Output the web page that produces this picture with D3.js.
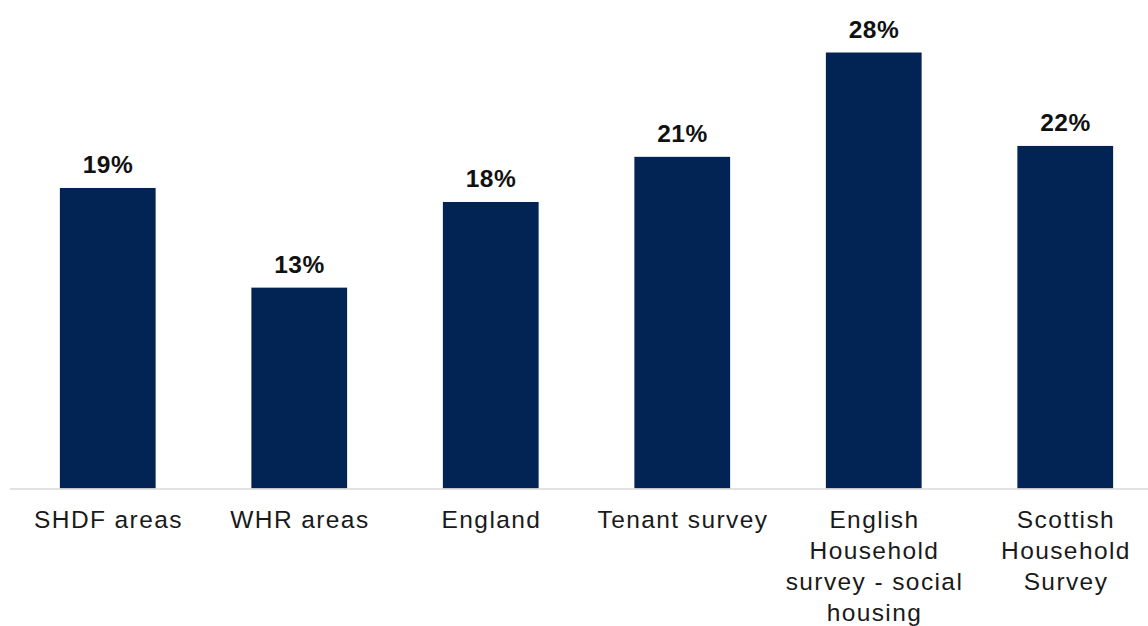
<!DOCTYPE html>
<html>
<head>
<meta charset="utf-8">
<script src="https://cdn.jsdelivr.net/npm/d3@7"></script>
<style>
  html, body { margin: 0; padding: 0; background: #fff; }
  svg { display: block; }
</style>
</head>
<body>
<svg id="chart"></svg>
<script>
// data
const categories = [
  "SHDF areas",
  "WHR areas",
  "England",
  "Tenant survey",
  "English\nHousehold\nsurvey - social\nhousing",
  "Scottish\nHousehold\nSurvey"
];
const values = [19.3, 12.9, 18.4, 21.3, 28.0, 22.0];
const valueLabels = ["19%", "13%", "18%", "21%", "28%", "22%"];

const W = 1148, H = 626;
const svg = d3.select("#chart").attr("width", W).attr("height", H);

const baseline = 488.5;
const font = "'Liberation Sans', Arial, sans-serif";

const x = d3.scaleBand()
  .domain(categories)
  .range([12, 1161])
  .paddingInner(0.5)
  .paddingOuter(0.25);

const y = d3.scaleLinear()
  .domain([0, 28])
  .range([baseline, 52.5]);

const data = categories.map((c, i) => ({ cat: c, value: values[i], label: valueLabels[i] }));

// bars
svg.append("g")
  .selectAll("rect")
  .data(data)
  .join("rect")
  .attr("x", d => x(d.cat))
  .attr("y", d => y(d.value))
  .attr("width", x.bandwidth())
  .attr("height", d => baseline - y(d.value))
  .attr("fill", "#022454");

// value labels
svg.append("g")
  .selectAll("text")
  .data(data)
  .join("text")
  .attr("x", d => x(d.cat) + x.bandwidth() / 2 + 0.3)
  .attr("y", d => y(d.value) - 15)
  .attr("text-anchor", "middle")
  .style("font-family", font)
  .style("font-weight", "bold")
  .style("font-size", "24.5px")
  .style("letter-spacing", "0.6px")
  .style("fill", "#111")
  .text(d => d.label);

// x axis
const xAxis = svg.append("g")
  .attr("transform", `translate(0, ${baseline})`)
  .call(d3.axisBottom(x).tickSize(0).tickPadding(0));

xAxis.select("path.domain").remove();
xAxis.append("line")
  .attr("x1", 10).attr("x2", W)
  .attr("y1", 0.5).attr("y2", 0.5)
  .attr("stroke", "#d9d9d9")
  .attr("stroke-width", 1.5);

xAxis.selectAll(".tick text").each(function(d) {
  const t = d3.select(this);
  const lines = d.split("\n");
  t.text(null)
    .attr("y", 0)
    .attr("dy", null)
    .style("font-family", font)
    .style("font-size", "24.5px")
    .style("letter-spacing", "1.4px")
    .style("fill", "#1a1a1a");
  lines.forEach((ln, i) => {
    t.append("tspan")
      .attr("x", 0.7)
      .attr("y", 39 + i * 31)
      .text(ln);
  });
});
</script>
</body>
</html>
